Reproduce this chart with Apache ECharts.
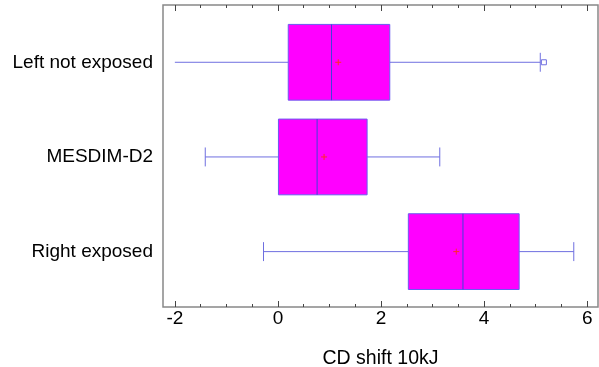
<!DOCTYPE html>
<html>
<head>
<meta charset="utf-8">
<script src="https://cdn.jsdelivr.net/npm/echarts@6/dist/echarts.min.js"></script>
<style>html,body{margin:0;padding:0;background:#fff}#c{width:599px;height:367px}</style>
</head>
<body>
<div id="c"></div>
<script>
// Data (top row first)
var categories = ['Left not exposed', 'MESDIM-D2', 'Right exposed'];
var whiskerLow = [-2.0, -1.41, -0.28];
var q1 = [0.2, 0.01, 2.53];
var median = [1.04, 0.76, 3.59];
var q3 = [2.17, 1.73, 4.68];
var whiskerHigh = [5.09, 3.14, 5.74];
var means = [1.17, 0.895, 3.46];
var leftCaps = [false, true, true];
var outliers = [[5.16, 0]]; // [value, category index]
var majorTicks = [-2, 0, 2, 4, 6];
var minorTicks = [-1.5, -1, -0.5, 0.5, 1, 1.5, 2.5, 3, 3.5, 4.5, 5, 5.5];
var xMin = -2.23, xMax = 6.21;

var nCat = categories.length;
// row position: first category at the top
function rowPos(i) { return nCat - 1 - i; }

var boxData = categories.map(function (c, i) {
  return [rowPos(i), whiskerLow[i], q1[i], median[i], q3[i], whiskerHigh[i], means[i], leftCaps[i] ? 1 : 0];
});
var outlierData = outliers.map(function (o) { return [o[0], rowPos(o[1])]; });

var chart = echarts.init(document.getElementById('c'));
var FONT = 'Liberation Sans, Arial, sans-serif';
function xAx(grid, pos, ticks, len, labels) {
  return {
    type: 'value', gridIndex: grid, position: pos, offset: 0, min: xMin, max: xMax,
    axisLine: { show: false, onZero: false },
    splitLine: { show: false },
    axisTick: { show: true, inside: true, length: len, customValues: ticks, lineStyle: { color: '#444', width: 1 } },
    axisLabel: { show: true, customValues: ticks, fontSize: 19, color: labels ? '#000' : 'rgba(0,0,0,0)', fontFamily: FONT, margin: 2 },
    name: labels ? 'CD shift 10kJ' : '',
    nameLocation: 'middle', nameGap: 42,
    nameTextStyle: { fontSize: 19.5, color: '#000', fontFamily: FONT }
  };
}
var gridBase = { left: 163, right: 1, top: 5, bottom: 60, outerBoundsMode: 'none', containLabel: false };
var yMin = -0.585, yMax = 2.605;
var option = {
  backgroundColor: '#fff',
  animation: false,
  grid: [
    Object.assign({ show: true, borderColor: '#888', borderWidth: 1.5, backgroundColor: 'transparent' }, gridBase),
    Object.assign({ show: false }, gridBase)
  ],
  xAxis: [
    xAx(0, 'bottom', majorTicks, 6, true),
    xAx(0, 'top', majorTicks, 6, false),
    xAx(1, 'bottom', minorTicks, 3, false),
    xAx(1, 'top', minorTicks, 3, false)
  ],
  yAxis: [
    {
      type: 'value', gridIndex: 0, min: yMin, max: yMax,
      axisLine: { show: false, onZero: false }, axisTick: { show: false }, splitLine: { show: false },
      axisLabel: {
        customValues: [0, 1, 2], fontSize: 19, color: '#000', fontFamily: FONT, margin: 10,
        formatter: function (v) { return categories[nCat - 1 - Math.round(v)] || ''; }
      }
    },
    {
      type: 'value', gridIndex: 1, min: yMin, max: yMax,
      axisLine: { show: false, onZero: false }, axisTick: { show: false }, splitLine: { show: false },
      axisLabel: { show: false }
    }
  ],
  series: [
    {
      type: 'custom',
      xAxisIndex: 0,
      yAxisIndex: 0,
      data: boxData,
      encode: { x: [1, 2, 3, 4, 5, 6], y: 0 },
      renderItem: function (params, api) {
        var idx = api.value(0);
        var pLow = api.coord([api.value(1), idx]);
        var pQ1 = api.coord([api.value(2), idx]);
        var pMed = api.coord([api.value(3), idx]);
        var pQ3 = api.coord([api.value(4), idx]);
        var pHigh = api.coord([api.value(5), idx]);
        var pMean = api.coord([api.value(6), idx]);
        var half = api.size([0, 0.4])[1];
        var cap = api.size([0, 0.1])[1];
        var y = pMed[1];
        var wl = { stroke: '#6f6fe0', lineWidth: 1 };
        var children = [
          { type: 'line', shape: { x1: pLow[0], y1: y, x2: pQ1[0], y2: y }, style: wl },
          { type: 'line', shape: { x1: pQ3[0], y1: y, x2: pHigh[0], y2: y }, style: wl },
          { type: 'line', shape: { x1: pHigh[0], y1: y - cap, x2: pHigh[0], y2: y + cap }, style: wl },
          { type: 'rect', shape: { x: pQ1[0], y: y - half, width: pQ3[0] - pQ1[0], height: 2 * half },
            style: { fill: '#ff00ff', stroke: '#6a5cf0', lineWidth: 1 } },
          { type: 'line', shape: { x1: pMed[0], y1: y - half, x2: pMed[0], y2: y + half }, style: { stroke: '#4040d8', lineWidth: 1 } },
          { type: 'line', shape: { x1: pMean[0] - 3, y1: pMean[1], x2: pMean[0] + 3, y2: pMean[1] }, style: { stroke: '#ff2a2a', lineWidth: 1 } },
          { type: 'line', shape: { x1: pMean[0], y1: pMean[1] - 3, x2: pMean[0], y2: pMean[1] + 3 }, style: { stroke: '#ff2a2a', lineWidth: 1 } }
        ];
        if (api.value(7)) {
          children.push({ type: 'line', shape: { x1: pLow[0], y1: y - cap, x2: pLow[0], y2: y + cap }, style: wl });
        }
        return { type: 'group', children: children };
      }
    },
    {
      type: 'scatter',
      xAxisIndex: 0,
      yAxisIndex: 0,
      data: outlierData,
      symbol: 'rect',
      symbolSize: 5,
      itemStyle: { color: '#fff', borderColor: '#6f6fe0', borderWidth: 1, opacity: 1 },
      z: 5
    }
  ]
};
chart.setOption(option);
</script>
</body>
</html>
